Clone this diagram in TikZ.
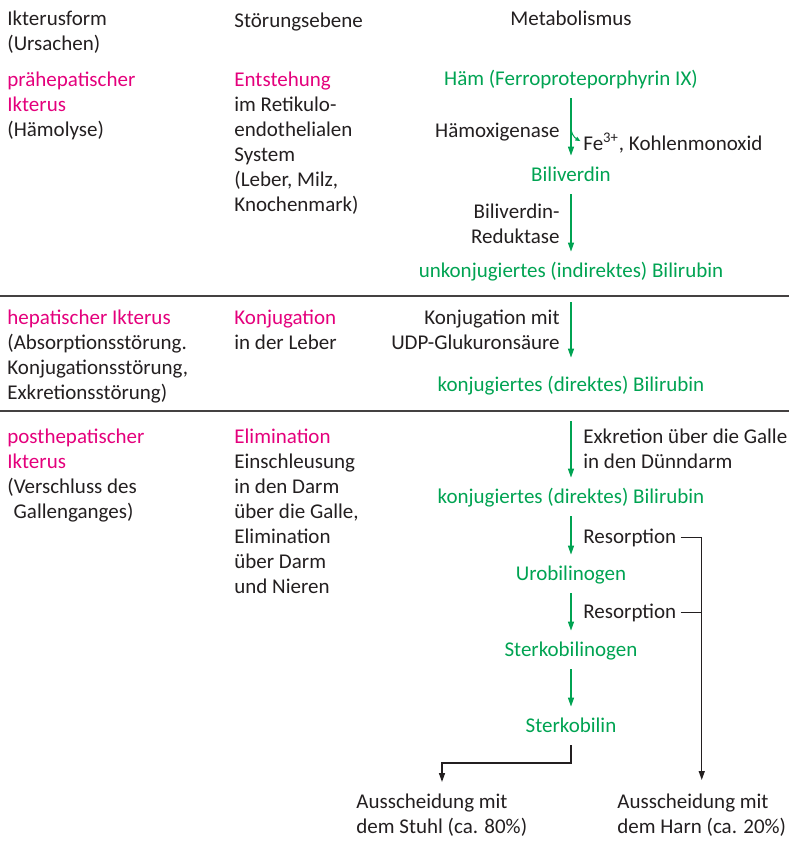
\documentclass[tikz,border=0pt]{standalone}
\usepackage{fontspec}
\setmainfont{Carlito}
\usetikzlibrary{arrows.meta, calc}
\definecolor{stoffgruen}{RGB}{0,163,82}
\definecolor{formmagenta}{RGB}{228,0,124}
\definecolor{schrift}{RGB}{35,31,32}

\begin{document}
\begin{tikzpicture}[x = 0.5pt, y = -0.5pt, font = \fontsize{10.5}{12.5}\selectfont, text = schrift]
	\tikzstyle {spalte} = [anchor = north west, inner sep = 0pt, align = left, execute at begin node = \strut];
	\tikzstyle {rechtsbuendig} = [anchor = north east, inner sep = 0pt, align = right, execute at begin node = \strut];
	\tikzstyle {zeile} = [anchor = base west, inner sep = 0pt];
	\tikzstyle {stoff} = [text = stoffgruen, inner xsep = 0pt, inner ysep = 4.5pt, text height = 8pt, text depth = 2pt];
	\tikzstyle {gruenpfeil} = [draw = stoffgruen, line width = 0.65pt, -{Triangle[length = 4.5pt, width = 3pt]}];
	\tikzstyle {schwarzpfeil} = [draw = schrift, line width = 0.7pt, -{Triangle[length = 4.5pt, width = 3pt]}];
	\useasboundingbox (0, 0) rectangle (793, 841);
	% Kopfzeile
	\node[spalte] (kopfform) at (7, 11) {Ikterusform\\(Ursachen)};
	\node[spalte] (kopfebene) at (234, 10) {Störungsebene};
	\node[anchor = base, inner sep = 0pt] (kopfmeta) at (571, 25) {Metabolismus};
	% Ikterusformen
	\node[spalte] (praeh) at (7, 72) {\textcolor{formmagenta}{prähepatischer}\\\textcolor{formmagenta}{Ikterus}\\(Hämolyse)};
	\node[spalte] (hepat) at (7, 310) {\textcolor{formmagenta}{hepatischer Ikterus}\\(Absorptionsstörung.\\Konjugationsstörung,\\Exkretionsstörung)};
	\node[spalte] (posth) at (7, 429) {\textcolor{formmagenta}{posthepatischer}\\\textcolor{formmagenta}{Ikterus}\\(Verschluss des\\\hspace{0.3em}Gallenganges)};
	% Stoerungsebenen
	\node[spalte] (entst) at (234, 72) {\textcolor{formmagenta}{Entstehung}\\im Retikulo-\\endothelialen\\System\\(Leber, Milz,\\Knochenmark)};
	\node[spalte] (konjug) at (234, 310) {\textcolor{formmagenta}{Konjugation}\\in der Leber};
	\node[spalte] (elim) at (234, 429) {\textcolor{formmagenta}{Elimination}\\Einschleusung\\in den Darm\\über die Galle,\\Elimination\\über Darm\\und Nieren};
	% Metabolismus
	\node[stoff] (ham) at (571, 79) {Häm (Ferroproteporphyrin IX)};
	\node[stoff] (bili) at (571, 175) {Biliverdin};
	\node[stoff] (unkonj) at (571, 271) {unkonjugiertes (indirektes) Bilirubin};
	\node[stoff] (konj) at (571, 385) {konjugiertes (direktes) Bilirubin};
	\node[stoff] (konjb) at (571, 497) {konjugiertes (direktes) Bilirubin};
	\node[stoff] (uro) at (571, 574) {Urobilinogen};
	\node[stoff] (sterkgen) at (571, 650) {Sterkobilinogen};
	\node[stoff] (sterk) at (571, 726) {Sterkobilin};
	\node[anchor = base east, inner sep = 0pt] (hamox) at (560, 137) {Hämoxigenase};
	\node[zeile] (fe) at (583, 150) {Fe\textsuperscript{3+}, Kohlenmonoxid};
	\node[rechtsbuendig] (redukt) at (560, 204) {Biliverdin-\\Reduktase};
	\node[rechtsbuendig] (konjmit) at (560, 310) {Konjugation mit\\UDP-Glukuronsäure};
	\node[spalte] (exkr) at (583, 429) {Exkretion über die Galle\\in den Dünndarm};
	\node[zeile] (res1) at (583, 543) {Resorption};
	\node[zeile] (res2) at (583, 618) {Resorption};
	\node[spalte] (stuhl) at (356, 794) {Ausscheidung mit\\dem Stuhl (ca. 80\%)};
	\node[spalte] (harn) at (617, 794) {Ausscheidung mit\\dem Harn (ca. 20\%)};
	% Trennlinien
	\foreach \hoehe in {296, 411} {
			\draw[draw = schrift!85, line width = 0.7pt] (0, \hoehe) -- (789, \hoehe);
		}
	% Pfeile
	\foreach \von/\nach in {ham/bili, bili/unkonj, konjb/uro, uro/sterkgen, sterkgen/sterk} {
			\draw[gruenpfeil] (\von) -- (\nach);
		}
	\draw[gruenpfeil, shorten <= 6pt, shorten >= 4pt] (unkonj) -- (konj);
	\draw[gruenpfeil, shorten <= 8.5pt] (konj) -- (konjb);
	\coordinate (abzweig) at ($(ham.south)!0.55!(bili.north)$);
	\draw[draw = stoffgruen, line width = 0.5pt, -{Triangle[length = 2.5pt, width = 2pt]}, shorten >= 1.5pt] (abzweig) to[out = -80, in = 150] (fe.west);
	\draw[schwarzpfeil, shorten <= 2pt, shorten >= 7pt] (res1.east) -| (harn.north);
	\draw[draw = schrift, line width = 0.7pt, shorten <= 2pt] (res2.east) -- (res2.east -| harn.north);
	\coordinate (knick) at (442, 763);
	\draw[schwarzpfeil, shorten >= 6pt] (sterk) |- (knick) -- (knick |- stuhl.north);
\end{tikzpicture}
\end{document}
